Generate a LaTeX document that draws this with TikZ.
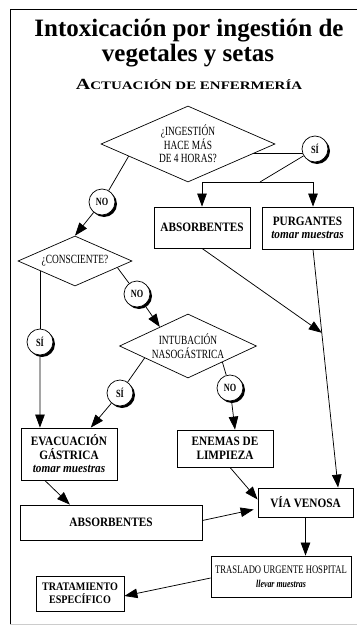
\documentclass[tikz,border=0pt]{standalone}
\usepackage{fontspec}
\setmainfont{Liberation Serif}
\newfontfamily\condfont[FakeStretch=0.75]{Liberation Serif}
\newfontfamily\cajafont[FakeStretch=0.88]{Liberation Serif}
\newfontfamily\widefont[FakeStretch=1.3]{Liberation Serif}
\usetikzlibrary{arrows.meta, positioning, calc, shapes.geometric, shadows, backgrounds}

\begin{document}
\begin{tikzpicture}[x=1pt, y=-1pt,
    caja/.style={draw, line width=0.8pt, fill=white, align=center, inner sep=0pt,
        font=\cajafont\bfseries\fontsize{12.8}{13.5}\selectfont},
    rombo/.style={diamond, draw, line width=0.7pt, fill=white, inner sep=0pt, align=center,
        font=\condfont\fontsize{12.5}{13.5}\selectfont},
    resp/.style={circle, draw, line width=0.7pt, fill=white, minimum size=26pt, inner sep=0pt,
        font=\condfont\bfseries\fontsize{11}{11}\selectfont,
        drop shadow={shadow xshift=2pt, shadow yshift=-2pt, fill=black, opacity=1}},
    flecha/.style={-{Triangle[length=13pt, width=9.5pt]}, line width=0.75pt},
    linea/.style={line width=0.75pt}]
    \useasboundingbox (0,0) rectangle (360,626);

    % marco
    \draw[line width=0.8pt] (357,9) -- (10,9) -- (10,624);
    \draw[gray!40] (10,624) -- (357,624);

    % titulo
    \node[anchor=base, font=\bfseries\fontsize{25}{28}\selectfont] (tit1) at (189,37) {Intoxicación por ingestión de};
    \node[anchor=base, font=\bfseries\fontsize{25}{28}\selectfont] (tit2) at (188,61) {vegetales y setas};
    \node[anchor=base, font=\widefont\bfseries] (subt) at (189,89)
        {{\fontsize{15.5}{15}\selectfont A}{\fontsize{11.5}{11}\selectfont CTUACIÓN DE ENFERMERÍA}};

    % decisiones
    \node[rombo, aspect=2.3, minimum width=174pt, minimum height=76pt] (ingest) at (188,144) {¿INGESTIÓN\\HACE MÁS\\DE 4 HORAS?};
    \node[rombo, aspect=2.3, minimum width=114pt, minimum height=50pt] (consc) at (75,261) {¿CONSCIENTE?};
    \node[rombo, aspect=2.1, minimum width=137pt, minimum height=64pt] (intub) at (188,346) {INTUBACIÓN\\NASOGÁSTRICA};

    % respuestas
    \node[resp] (si1) at (315,149) {SÍ};
    \node[resp] (no1) at (102,202) {NO};
    \node[resp] (no2) at (137,294) {NO};
    \node[resp] (si2) at (40,342) {SÍ};
    \node[resp] (si3) at (120,393) {SÍ};
    \node[resp] (no3) at (230,388) {NO};

    % cajas
    \node[caja, minimum width=96pt, minimum height=41pt] (absor1) at (202,227.5) {ABSORBENTES};
    \node[caja, minimum width=91pt, minimum height=42pt] (purga) at (307.5,228) {PURGANTES\\{\itshape tomar muestras}};
    \node[caja, minimum width=96pt, minimum height=52pt] (evac) at (69,454) {EVACUACIÓN\\GÁSTRICA\\{\itshape tomar muestras}};
    \node[caja, minimum width=96pt, minimum height=37pt] (enema) at (225,448.5) {ENEMAS DE\\LIMPIEZA};
    \node[caja, minimum width=95pt, minimum height=29pt] (via) at (305.5,502.5) {VÍA VENOSA};
    \node[caja, minimum width=182pt, minimum height=35pt] (absor2) at (111,522.5) {ABSORBENTES};
    \node[caja, minimum width=140pt, minimum height=41pt, font=\condfont\fontsize{11.5}{14}\selectfont] (trasl) at (281,576.5)
        {TRASLADO URGENTE HOSPITAL\\{\bfseries\itshape\fontsize{10.5}{12}\selectfont llevar muestras}};
    \node[caja, minimum width=88pt, minimum height=35pt, font=\cajafont\bfseries\fontsize{11.5}{13}\selectfont] (trat) at (80,593.5) {TRATAMIENTO\\ESPECÍFICO};

    % puntos auxiliares
    \coordinate (bif) at (260,182);
    \coordinate (sientra) at ([yshift=-4pt]si1.center);
    \coordinate (ptop) at ($(purga.north)+(5.5,0)$);
    \coordinate (pbot) at ($(purga.south)+(5.5,0)$);
    \coordinate (vtop) at ($(via.north)!0.68!(via.north east)$);
    \coordinate (cruce) at ($(pbot)!0.35!(vtop)$);

    % lineas sin flecha
    \begin{scope}[on background layer]
        \draw[linea] (sientra) -- (sientra -| ingest.center);
        \draw[linea] (si1) -- (bif);
        \draw[linea] ($(ingest.west)!0.32!(ingest.south)$) -- (no1);
        \draw[linea] ($(consc.east)!0.26!(consc.south)$) -- (no2);
        \draw[linea] (si2) -- (si2 |- consc.center);
        \draw[linea] ($(intub.west)!0.37!(intub.south)$) -- (si3);
        \draw[linea] (intub.south east) -- (no3);
    \end{scope}
    \draw[linea] (absor1.north |- bif) -- (ptop |- bif);

    % flechas
    \draw[flecha] (absor1.north |- bif) -- (absor1.north);
    \draw[flecha] (ptop |- bif) -- (ptop);
    \draw[flecha] (no1) -- (consc.north);
    \draw[flecha] (no2) -- ($(intub.north)!0.41!(intub.west)$);
    \draw[flecha] (si2) -- ($(evac.north west)!0.4!(evac.north)$);
    \draw[flecha] (si3) -- ($(evac.north)!0.45!(evac.north east)$);
    \draw[flecha] (no3) -- ([xshift=10pt]enema.north);
    \draw[flecha] (absor1.south) -- (cruce);
    \draw[flecha] (pbot) -- (vtop);
    \draw[flecha] ([xshift=5pt]enema.south) -- ([yshift=3pt]via.west);
    \draw[flecha] ($(evac.south west)!0.5!(evac.south)$) -- ($(absor2.north west)!0.55!(absor2.north)$);
    \draw[flecha] ([yshift=2pt]absor2.east) -- ([xshift=-4pt,yshift=-7pt]via.west);
    \draw[flecha] (via.south) -- (via.south |- trasl.north);
    \draw[flecha] ([yshift=-1.5pt]trasl.west) -- ([yshift=-2.5pt]trat.east);
\end{tikzpicture}
\end{document}
